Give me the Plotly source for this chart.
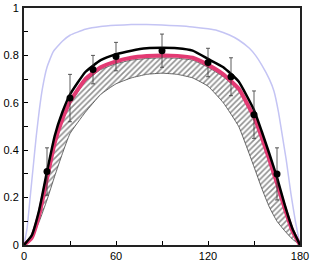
import plotly.graph_objects as go

# Curve sample positions (degrees)
x_curve = [0, 5, 10, 15, 20, 25, 30, 40, 50, 60, 70, 80, 90, 100, 110, 120, 130, 140, 150, 155, 160, 165, 170, 175, 180]
black_y = [0, 0.04, 0.15, 0.31, 0.46, 0.56, 0.635, 0.73, 0.78, 0.805, 0.82, 0.83, 0.832, 0.83, 0.82, 0.785, 0.75, 0.69, 0.57, 0.48, 0.385, 0.285, 0.17, 0.07, 0]
pink_y = [0, 0.03, 0.13, 0.28, 0.43, 0.53, 0.605, 0.70, 0.75, 0.775, 0.79, 0.797, 0.80, 0.798, 0.79, 0.76, 0.72, 0.66, 0.54, 0.455, 0.36, 0.26, 0.155, 0.06, 0]
band_upper = [0, 0.025, 0.12, 0.27, 0.42, 0.52, 0.595, 0.69, 0.74, 0.765, 0.78, 0.787, 0.79, 0.788, 0.78, 0.75, 0.71, 0.65, 0.53, 0.445, 0.35, 0.25, 0.145, 0.055, 0]
band_lower = [0, 0.03, 0.10, 0.19, 0.29, 0.385, 0.47, 0.56, 0.635, 0.68, 0.705, 0.72, 0.725, 0.72, 0.705, 0.67, 0.60, 0.50, 0.33, 0.24, 0.16, 0.10, 0.06, 0.025, 0]

x_blue = [0, 2, 4, 6, 8, 10, 12, 15, 19, 25, 30, 40, 50, 60, 70, 80, 90, 100, 110, 120, 126, 134, 140, 147, 151, 155, 160, 163, 166, 168, 171, 174, 177, 180]
blue_y = [0, 0.07, 0.2, 0.33, 0.46, 0.57, 0.66, 0.75, 0.815, 0.86, 0.885, 0.91, 0.922, 0.927, 0.93, 0.93, 0.928, 0.925, 0.92, 0.912, 0.905, 0.886, 0.865, 0.83, 0.80, 0.76, 0.70, 0.65, 0.56, 0.48, 0.36, 0.22, 0.10, 0]

# Measured points
x_pts = [15, 30, 45, 60, 90, 120, 135, 150, 165]
y_pts = [0.31, 0.62, 0.74, 0.795, 0.82, 0.77, 0.71, 0.55, 0.30]
y_err = [0.10, 0.10, 0.06, 0.06, 0.07, 0.06, 0.08, 0.10, 0.11]

x_ticks = [0, 60, 120, 180]
y_ticks = [0, 0.2, 0.4, 0.6, 0.8, 1]
y_ticklabels = ["0", "0.2", "0.4", "0.6", "0.8", "1"]

SM = 0.4

fig = go.Figure()

# Hatched band
fig.add_trace(go.Scatter(
    x=x_curve + x_curve[::-1],
    y=band_upper + band_lower[::-1],
    mode="lines", line=dict(color="#444444", width=0.8, shape="spline", smoothing=SM),
    fill="toself",
    fillpattern=dict(shape="/", fgcolor="#222222", bgcolor="white", size=4, solidity=0.4),
    hoverinfo="skip", showlegend=False,
))

fig.add_trace(go.Scatter(x=x_blue, y=blue_y, mode="lines",
                         line=dict(color="#c4c4f4", width=1.5, shape="spline", smoothing=SM),
                         showlegend=False))
fig.add_trace(go.Scatter(x=x_curve, y=pink_y, mode="lines",
                         line=dict(color="#e33a73", width=4, shape="spline", smoothing=SM),
                         showlegend=False))
fig.add_trace(go.Scatter(x=x_curve, y=black_y, mode="lines",
                         line=dict(color="black", width=2.5, shape="spline", smoothing=SM),
                         showlegend=False))
fig.add_trace(go.Scatter(x=x_pts, y=y_pts, mode="markers",
                         marker=dict(color="black", size=7),
                         error_y=dict(type="data", array=y_err, visible=True,
                                      color="#333333", thickness=0.8, width=2),
                         showlegend=False, cliponaxis=False))

axis_common = dict(showline=True, mirror=True, linecolor="#222222", linewidth=2,
                   ticks="inside", ticklen=4, tickcolor="black", tickwidth=1,
                   showgrid=False, zeroline=False, automargin=False,
                   tickfont=dict(family="Liberation Sans, Arial, sans-serif", size=11, color="black"))

fig.update_xaxes(range=[0, 180], tickvals=x_ticks, ticktext=[str(v) for v in x_ticks],
                 minor=dict(dtick=30, tick0=0, ticks="inside", ticklen=4, tickcolor="black"),
                 ticklabelstandoff=0, **axis_common)
fig.update_yaxes(range=[0, 1], tickvals=y_ticks, ticktext=y_ticklabels,
                 minor=dict(dtick=0.1, tick0=0, ticks="inside", ticklen=4, tickcolor="black"),
                 ticklabelstandoff=1, **axis_common)

fig.update_layout(width=311, height=262, margin=dict(l=24, r=11, t=8, b=17),
                  paper_bgcolor="white", plot_bgcolor="white")

fig.write_html("out.html", config={"displayModeBar": False},
               post_script="document.body.style.margin='0';")
